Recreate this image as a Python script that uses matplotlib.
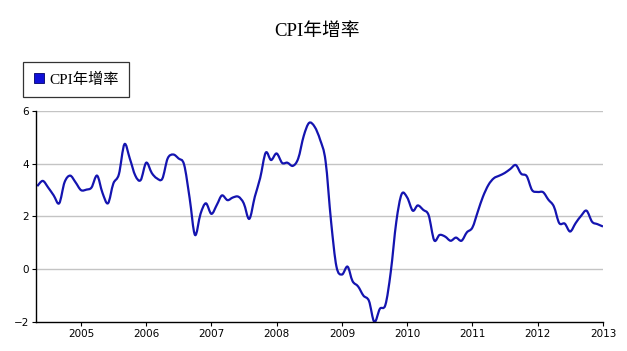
import matplotlib
matplotlib.use("Agg")
import matplotlib.pyplot as plt
import matplotlib.dates as mdates
from matplotlib.lines import Line2D
from matplotlib.path import Path
from matplotlib.patches import PathPatch
import numpy as np
import pandas as pd

# monthly CPI year-over-year growth, May 2004 - Jan 2013
months = pd.date_range("2004-05-01", "2013-01-01", freq="MS")
cpi = [
    3.15, 3.35, 3.1, 2.8, 2.5, 3.3, 3.55, 3.3,                              # 2004 May-Dec
    3.0, 3.02, 3.1, 3.55, 2.9, 2.5, 3.25, 3.6, 4.74, 4.2, 3.55, 3.38,       # 2005
    4.04, 3.65, 3.45, 3.43, 4.2, 4.35, 4.2, 3.97, 2.7, 1.3, 2.1, 2.5,       # 2006
    2.1, 2.45, 2.8, 2.62, 2.72, 2.75, 2.5, 1.91, 2.75, 3.46, 4.42, 4.14,    # 2007
    4.39, 4.03, 4.04, 3.92, 4.2, 5.06, 5.55, 5.4, 4.9, 4.1, 1.8, 0.1,       # 2008
    -0.2, 0.1, -0.45, -0.65, -1.0, -1.2, -2.0, -1.5, -1.35, -0.1, 1.8, 2.85,  # 2009
    2.72, 2.22, 2.42, 2.25, 2.05, 1.1, 1.3, 1.24, 1.08, 1.2, 1.08, 1.4,     # 2010
    1.58, 2.2, 2.75, 3.2, 3.45, 3.55, 3.65, 3.8, 3.95, 3.62, 3.53, 3.0,     # 2011
    2.93, 2.92, 2.64, 2.38, 1.75, 1.73, 1.43, 1.75, 2.03, 2.22, 1.8, 1.71,  # 2012
    1.62,                                                                   # 2013 Jan
]
y_ticks = [-2, 0, 2, 4, 6]
series_name = "CPI年增率"

cjk_serif = ["Liberation Serif", "Noto Sans CJK TC"]
cjk_sans = ["DejaVu Sans", "Noto Sans CJK TC"]


def smooth_path(x, y):
    """Catmull-Rom spline through the points, as cubic Bezier segments"""
    pts = np.column_stack([x, y])
    padded = np.vstack([pts[:1], pts, pts[-1:]])
    verts = [pts[0]]
    codes = [Path.MOVETO]
    for i in range(len(pts) - 1):
        p0, p1, p2, p3 = padded[i], padded[i + 1], padded[i + 2], padded[i + 3]
        verts += [p1 + (p2 - p0) / 6, p2 - (p3 - p1) / 6, p2]
        codes += [Path.CURVE4] * 3
    return Path(verts, codes)


fig = plt.figure(figsize=(6.27, 3.51), dpi=100)
ax = fig.add_axes([0.0574, 0.0826, 0.9043, 0.6012])

x_num = mdates.date2num(months)
line_color = "#1414b0"
ax.add_patch(PathPatch(smooth_path(x_num, cpi), facecolor="none",
                       edgecolor=line_color, linewidth=1.6, joinstyle="round"))

ax.set_ylim(-2, 6)
ax.set_yticks(y_ticks)
ax.set_xlim(pd.Timestamp("2004-04-24"), pd.Timestamp("2013-01-01"))
ax.xaxis.set_major_locator(mdates.YearLocator())
ax.xaxis.set_major_formatter(mdates.DateFormatter("%Y"))

for v in y_ticks[1:]:
    ax.axhline(v, color="#c4c4c4", linewidth=1.0, zorder=0)

for side in ("top", "right"):
    ax.spines[side].set_visible(False)
for side in ("left", "bottom"):
    ax.spines[side].set_linewidth(1.0)
    ax.spines[side].set_color("black")

ax.tick_params(axis="both", length=3, width=0.8, labelsize=7.5, pad=2)
for lab in ax.get_xticklabels() + ax.get_yticklabels():
    lab.set_family(cjk_sans)

fig.text(0.505, 0.91, series_name, ha="center", va="center",
         fontsize=13.5, family=cjk_serif)

handle = Line2D([], [], linestyle="none", marker="s", markersize=7,
                markerfacecolor="#1010d8", markeredgecolor="#00006a",
                markeredgewidth=0.6)
leg = fig.legend([handle], [series_name], loc="upper left",
                 bbox_to_anchor=(0.037, 0.824), frameon=True, fancybox=False,
                 shadow=False, handlelength=0.7, handletextpad=0.3,
                 borderpad=0.7, borderaxespad=0,
                 prop={"family": cjk_serif, "size": 11})
leg.get_frame().set_edgecolor("black")
leg.get_frame().set_linewidth(0.9)

fig.savefig("out.png", dpi=100)
